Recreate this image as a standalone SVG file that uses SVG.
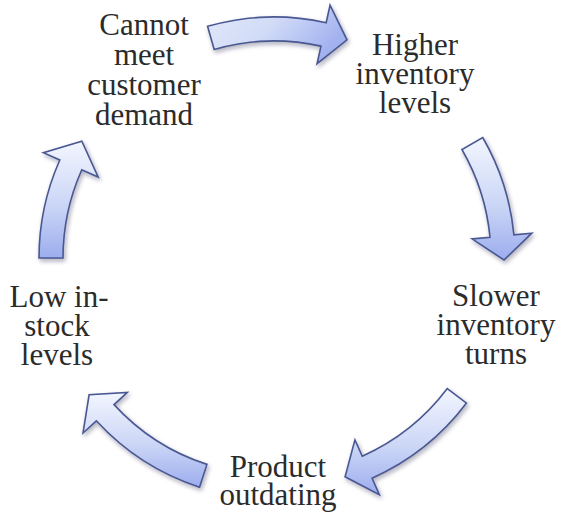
<svg xmlns="http://www.w3.org/2000/svg" width="561" height="516" viewBox="0 0 561 516">
  <defs>
    <linearGradient id="fillV" x1="0" y1="0" x2="0" y2="1">
      <stop offset="0" stop-color="#f3f6ff"/>
      <stop offset="0.55" stop-color="#cbd6f6"/>
      <stop offset="1" stop-color="#9cadee"/>
    </linearGradient>
    <linearGradient id="fillH" x1="0" y1="0" x2="1" y2="0.4">
      <stop offset="0" stop-color="#e2e8fa"/>
      <stop offset="0.5" stop-color="#d2dcf7"/>
      <stop offset="1" stop-color="#a2b2ef"/>
    </linearGradient>
    <filter id="shadow" x="-20%" y="-20%" width="140%" height="140%">
      <feDropShadow dx="1.5" dy="2.5" stdDeviation="2" flood-color="#1a2040" flood-opacity="0.35"/>
    </filter>
  </defs>
  <style>
    .arrow { stroke: #4a5892; stroke-width: 1.6; stroke-linejoin: miter; filter: url(#shadow); }
    .label { font-family: "Liberation Serif", "Times New Roman", serif; font-size: 31px; fill: #2b2b2b; text-anchor: middle; }
  </style>

  <rect width="561" height="516" fill="#ffffff"/>

  <!-- curved cycle arrows, clockwise -->
  <g id="connectors">
    <path class="arrow" fill="url(#fillH)" d="M207.57,26.34 A241,241 0 0 1 326.16,22.71 L330.06,5.14 L346.98,39.89 L317.07,63.72 L320.97,46.14 A217,217 0 0 0 214.19,49.41 Z"/>
    <path class="arrow" fill="url(#fillV)" d="M482.71,137.5 A241,241 0 0 1 513.89,234.9 L531.81,233.18 L503.99,260.01 L472.08,238.93 L490,237.2 A217,217 0 0 0 461.93,149.5 Z"/>
    <path class="arrow" fill="url(#fillV)" d="M466.47,403.04 A241,241 0 0 1 372.02,478.17 L379.35,494.61 L345.07,476.74 L354.94,439.8 L362.26,456.24 A217,217 0 0 0 447.3,388.59 Z"/>
    <path class="arrow" fill="url(#fillV)" d="M199.53,487.2 A241,241 0 0 1 96.32,420.82 L83.04,432.98 L89.11,394.81 L127.28,392.44 L114.01,404.6 A217,217 0 0 0 206.94,464.38 Z"/>
    <path class="arrow" fill="url(#fillV)" d="M39,258 A241,241 0 0 1 59.83,159.98 L43.39,152.65 L81.83,141.27 L98.2,177.06 L81.76,169.74 A217,217 0 0 0 63,258 Z"/>
  </g>

  <g id="node-demand">
    <text class="label" x="144" y="35">Cannot<tspan x="144" dy="30">meet</tspan><tspan x="144" dy="30">customer</tspan><tspan x="144" dy="30">demand</tspan></text>
  </g>
  <g id="node-higher">
    <text class="label" x="415" y="54.5">Higher<tspan x="415" dy="29">inventory</tspan><tspan x="415" dy="29">levels</tspan></text>
  </g>
  <g id="node-slower">
    <text class="label" x="496" y="306">Slower<tspan x="496" dy="29">inventory</tspan><tspan x="496" dy="29">turns</tspan></text>
  </g>
  <g id="node-outdating">
    <text class="label" x="278" y="477">Product<tspan x="278" dy="28">outdating</tspan></text>
  </g>
  <g id="node-lowstock">
    <text class="label" x="59" y="307">Low in-<tspan x="57" dy="29">stock</tspan><tspan x="57" dy="29">levels</tspan></text>
  </g>
</svg>
